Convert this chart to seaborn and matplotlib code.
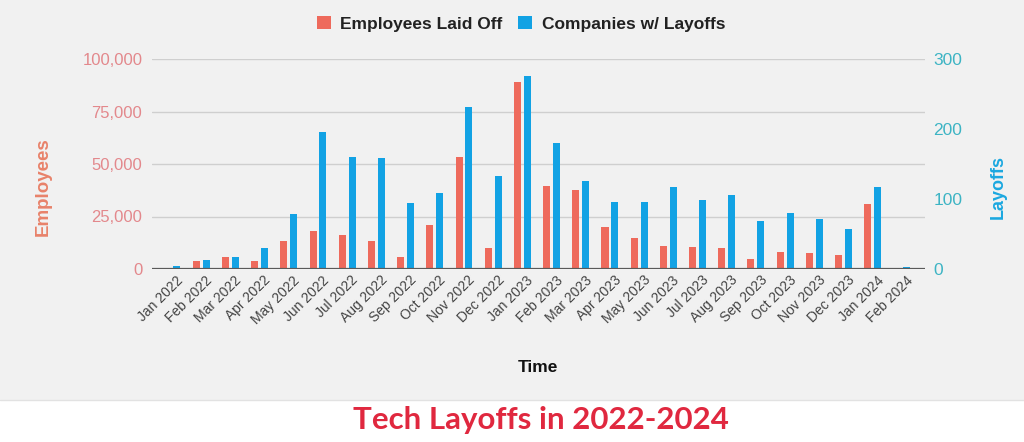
import numpy as np
import pandas as pd
import matplotlib
matplotlib.use("Agg")
import matplotlib.pyplot as plt
import matplotlib.transforms as mtransforms
from matplotlib.patches import Patch, Rectangle
import seaborn as sns

months = ["Jan 2022", "Feb 2022", "Mar 2022", "Apr 2022", "May 2022", "Jun 2022",
          "Jul 2022", "Aug 2022", "Sep 2022", "Oct 2022", "Nov 2022", "Dec 2022",
          "Jan 2023", "Feb 2023", "Mar 2023", "Apr 2023", "May 2023", "Jun 2023",
          "Jul 2023", "Aug 2023", "Sep 2023", "Oct 2023", "Nov 2023", "Dec 2023",
          "Jan 2024", "Feb 2024"]
employees = [500, 4000, 5900, 4000, 13300, 18000, 16300, 13200, 5900, 20800,
             53500, 9900, 89200, 39500, 37600, 20100, 14900, 11000, 10600, 9900,
             4600, 7900, 7800, 6700, 30800, 500]
companies = [4, 13, 17, 30, 79, 195, 160, 158, 94, 109,
             232, 133, 276, 180, 125, 95, 96, 117, 99, 105,
             69, 80, 71, 57, 117, 3]
series_names = ["Employees Laid Off", "Companies w/ Layoffs"]
left_ticks = [0, 25000, 50000, 75000, 100000]
right_ticks = [0, 100, 200, 300]

RED = "#EE6A5C"
BLUE = "#12A2E4"
BG = "#F1F1F1"

idx = np.arange(len(months))
offset = 0.17
df_emp = pd.DataFrame({"pos": idx - offset, "Value": employees})
df_com = pd.DataFrame({"pos": idx + offset, "Value": companies})

sns.set_theme(style="white")
plt.rcParams["font.family"] = ["Liberation Sans", "DejaVu Sans"]

fig = plt.figure(figsize=(10.24, 4.42), dpi=100, facecolor="white")
fig.patches.append(Rectangle((0, 42 / 442), 1, 400 / 442, transform=fig.transFigure,
                             facecolor=BG, edgecolor="none", zorder=-10))
fig.add_artist(plt.Line2D([0, 1], [42 / 442, 42 / 442], color="#E2E2E2", lw=1))

ax = fig.add_axes([152 / 1024, 1 - 269 / 442, (925 - 152) / 1024, (269 - 59) / 442])
ax.set_facecolor("none")
ax2 = ax.twinx()

sns.barplot(data=df_emp, x="pos", y="Value", native_scale=True, width=0.24,
            color=RED, saturation=1, errorbar=None, ax=ax, linewidth=0)
sns.barplot(data=df_com, x="pos", y="Value", native_scale=True, width=0.24,
            color=BLUE, saturation=1, errorbar=None, ax=ax2, linewidth=0)

ax.set_ylim(0, 100000)
ax2.set_ylim(0, 300)
ax.set_yticks(left_ticks)
ax.set_yticklabels([f"{v:,}" for v in left_ticks])
ax2.set_yticks(right_ticks)
ax2.set_yticklabels([str(v) for v in right_ticks])

for a in (ax, ax2):
    for s in a.spines.values():
        s.set_visible(False)

ax.yaxis.grid(True, color="#CFCFCF", lw=1)
ax.set_axisbelow(True)
ax2.axhline(0, color="#5A5A5A", lw=1.6, zorder=5)

ax.tick_params(axis="y", which="both", left=False, length=0,
               labelsize=12, labelcolor="#E3888C", pad=7)
ax2.tick_params(axis="y", right=False, length=0, labelsize=12.5, labelcolor="#3DB4C4", pad=6)
ax.tick_params(axis="x", bottom=False, length=0, labelsize=10, labelcolor="#444444", pad=3)
ax.set_xticks(idx)
ax.set_xticklabels(months, rotation=45, ha="right", rotation_mode="anchor")
shift = mtransforms.ScaledTranslation(4 / 100, 0, fig.dpi_scale_trans)
for lbl in ax.get_xticklabels():
    lbl.set_transform(lbl.get_transform() + shift)
ax.set_xlim(-0.685, 25.79)

ax.set_xlabel("Time", fontsize=12.5, fontweight="bold", color="#111111")
ax.set_ylabel("Employees", fontsize=13.5, fontweight="bold", color="#E8826A")
ax2.set_ylabel("Layoffs", fontsize=13, fontweight="bold", color="#1BA8E0")
ax.xaxis.set_label_coords((538 - 152) / (925 - 152), -(360 - 269) / (269 - 59))
ax.yaxis.set_label_coords(-(152 - 52) / (925 - 152), (269 - 187) / (269 - 59))
ax2.yaxis.set_label_coords((990 - 152) / (925 - 152), (269 - 187) / (269 - 59))

handles = [Patch(facecolor=c, edgecolor="none") for c in (RED, BLUE)]
leg = fig.legend(handles, series_names, loc="center", bbox_to_anchor=(521 / 1024, 1 - 24 / 442),
                 ncol=2, frameon=False, handlelength=0.8, handleheight=0.8,
                 handletextpad=0.55, columnspacing=0.9,
                 prop={"size": 12.5, "weight": "bold"})
for t in leg.get_texts():
    t.set_color("#222222")

fig.text(541 / 1024, 1 - 420 / 442, "Tech Layoffs in 2022-2024", ha="center", va="center",
         fontsize=22.5, fontweight="bold", color="#E0283F", family=["Lato", "DejaVu Sans"])

fig.savefig("out.png", dpi=100, facecolor=fig.get_facecolor())
